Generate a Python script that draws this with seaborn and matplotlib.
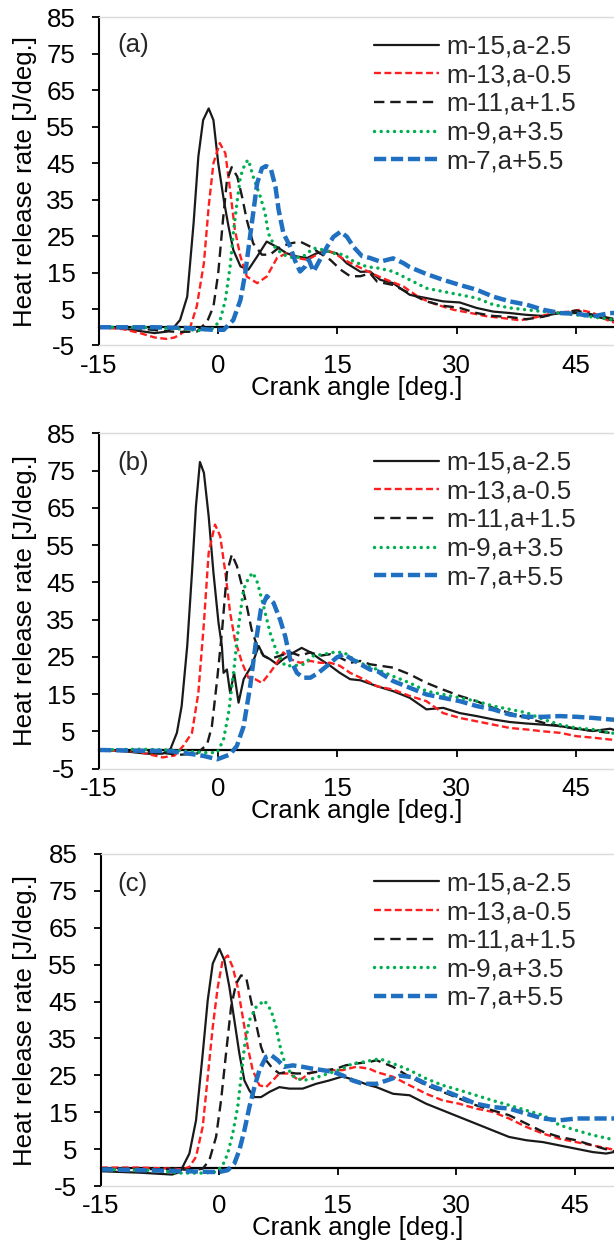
import matplotlib
matplotlib.use("Agg")
import matplotlib.pyplot as plt
import pandas as pd
import seaborn as sns

# ---------------- data ----------------
labels = ["m-15,a-2.5", "m-13,a-0.5", "m-11,a+1.5", "m-9,a+3.5", "m-7,a+5.5"]
panel_tags = ["(a)", "(b)", "(c)"]
x_ticks = [-15, 0, 15, 30, 45]
y_ticks = [-5, 5, 15, 25, 35, 45, 55, 65, 75, 85]

# panel (a)
a_m15_x = [-15,-12,-10,-8,-6.5,-5.5,-4.8,-3.9,-3.1,-2.5,-1.9,-1.2,-0.6,0.0,0.7,1.3,1.9,2.8,3.8,4.9,6.1,7.4,8.6,9.9,11.2,12.4,13.7,14.9,16.2,17.9,19.1,20.4,22.0,24.1,26.2,28.3,30.4,32.5,34.6,36.7,38.8,40.9,43.0,45.1,47.2,49.3,50.5]
a_m15_y = [0,-0.3,-1.0,-1.6,-1.2,0.2,2.0,8.4,28.5,46.8,56.8,60.0,56.8,45.0,34.9,27.6,21.2,16.7,15.8,19.4,23.5,22.0,20.3,19.4,19.0,20.3,20.8,20.3,17.5,15.2,15.3,13.0,12.1,8.9,8.0,7.1,6.8,5.3,4.3,3.9,3.4,3.1,3.9,3.9,3.1,2.0,1.5]
a_m13_x = [-15,-12,-10,-8,-6.5,-5.5,-4.8,-3.5,-2.7,-1.8,-1.2,-0.6,0.2,0.9,1.5,2.1,2.8,3.6,4.9,6.1,7.4,8.6,9.9,11.2,12.4,13.7,14.9,16.2,17.9,19.9,21.2,23.3,25.4,27.5,29.6,31.8,33.8,35.9,38.0,40.1,42.2,44.3,45.5,47.2,49.3,50.5]
a_m13_y = [0,-0.5,-1.5,-2.8,-3.2,-2.8,-2.0,0.2,5.7,17.6,33.1,45.0,50.5,47.7,37.6,26.7,19.4,13.9,12.1,13.9,19.0,20.3,19.0,18.5,19.9,21.2,19.9,18.1,16.3,14.2,13.0,11.2,8.0,6.2,4.8,3.9,3.0,2.5,1.9,2.8,3.9,4.3,4.8,3.9,1.6,1.0]
a_m11_x = [-15,-10,-7,-5,-3.5,-2.7,-1.4,-0.6,0.0,0.6,1.1,1.7,2.4,3.0,3.6,4.4,5.5,6.5,7.8,9.1,10.3,11.6,12.8,14.1,15.4,16.6,17.9,19.1,20.0,22.0,24.1,26.2,28.3,30.4,32.5,34.6,36.7,38.8,40.9,43.0,45.1,47.2,49.3,50.5]
a_m11_y = [0,-0.3,-1.0,-1.3,-1.2,-1.2,1.5,5.7,14.8,29.4,40.3,43.9,41.3,35.8,29.4,23.0,19.9,19.9,22.1,23.0,23.5,22.1,20.3,18.5,15.8,14.0,14.0,14.8,12.5,11.6,9.3,7.1,5.9,5.3,3.9,3.1,2.8,2.2,2.9,4.0,4.6,3.4,2.5,2.0]
a_m9_x = [-15,-10,-6,-4,-2.3,-0.6,0.25,0.9,1.5,1.9,2.35,2.8,3.4,3.8,4.4,5.3,5.9,6.3,7.2,8.2,9.5,10.7,12.0,13.3,14.5,15.8,17.0,18.7,20.2,22.0,24.1,26.2,28.3,30.4,32.5,34.6,36.7,38.8,40.9,43.0,45.1,47.2,49.3,50.5]
a_m9_y = [0,0,-0.3,-0.6,-0.9,-0.3,2.0,7.5,16.7,25.8,34.0,41.3,45.0,45.9,41.3,35.8,31.3,25.8,21.7,19.9,19.0,19.4,21.7,21.2,20.3,19.9,18.1,16.6,16.2,15.3,13.0,10.7,9.8,8.9,8.0,6.2,5.3,4.8,4.3,3.9,3.4,2.8,2.2,2.0]
a_m7_x = [-15,-8,-4,-2,-0.6,0.7,1.9,2.8,3.4,4.0,4.4,4.9,5.5,6.0,6.6,7.2,7.6,8.2,9.05,9.7,10.3,10.95,11.4,12.0,12.8,13.7,14.5,15.4,16.2,17.0,18.1,19.1,20.4,22.0,23.3,24.1,26.2,28.3,30.4,32.5,34.6,36.7,38.8,40.9,43.0,45.1,47.2,49.3,50.5]
a_m7_y = [0,0,-0.2,-0.5,-0.7,-0.7,2.0,7.5,14.8,24.8,31.3,39.5,43.6,44.2,43.6,38.6,32.2,25.8,22.1,18.1,15.3,16.7,18.5,15.3,18.5,22.1,24.8,26.2,24.8,22.1,19.5,19.0,18.0,18.9,17.6,16.5,14.6,13.0,11.6,10.3,8.4,7.1,6.2,4.8,3.9,3.7,3.0,3.9,3.9]

# panel (b)
b_m15_x = [-15,-12,-9,-7,-6,-5.2,-4.6,-3.9,-3.3,-2.8,-2.3,-1.8,-1.2,-0.6,0.04,0.46,0.67,1.09,1.5,2.0,2.56,3.2,4.2,5.1,5.7,6.5,7.4,8.2,9.5,10.5,11.6,12.8,14.1,15.3,16.6,17.9,20.0,22.0,24.1,26.2,28.3,30.4,32.5,34.6,36.7,38.8,40.9,43.0,45.1,47.2,49.3,50.5]
b_m15_y = [0,-0.3,-1.0,-1.0,0.3,4.6,11.8,27.9,47.6,65.5,77.3,74.4,62.7,47.6,34.1,27.9,20.7,21.6,15.3,20.7,12.7,19.0,22.6,27.9,25.3,24.4,23.0,24.4,26.2,27.4,26.2,24.4,22.6,20.7,19.0,18.7,17.1,15.8,14.0,10.9,11.3,9.9,9.1,8.2,7.5,7.1,6.8,6.4,5.7,5.1,5.7,5.0]
b_m13_x = [-15,-10,-8,-7,-5.5,-4.4,-3.3,-2.5,-1.8,-1.2,-0.4,0.25,0.9,1.5,2.1,3.0,3.8,4.65,5.5,6.5,7.4,8.2,9.05,10.3,11.6,12.8,14.1,15.3,16.6,17.9,20.0,22.0,24.1,26.2,28.3,30.4,32.5,34.6,36.7,38.8,40.9,43.0,45.1,47.2,49.3,50.5]
b_m13_y = [0,-0.5,-1.5,-2.0,-1.5,1.1,4.6,15.3,34.1,53.0,60.5,57.4,47.6,36.8,29.6,23.4,19.4,19.0,18.0,20.7,23.4,26.2,24.4,23.4,23.9,23.4,23.4,22.6,20.7,19.4,17.1,16.2,14.5,13.1,9.9,8.6,7.7,6.8,5.9,5.5,5.0,4.6,3.7,3.3,2.8,2.6]
b_m11_x = [-15,-8,-5,-2.7,-1.4,-0.8,-0.13,0.46,1.09,1.72,2.35,3.0,3.6,4.2,4.9,5.7,6.5,7.8,9.05,10.3,11.6,12.8,14.1,15.3,16.6,17.9,19.1,22.0,24.1,26.2,28.3,30.4,32.5,34.6,36.7,38.8,40.9,43.0,45.1,47.2,49.3,50.5]
b_m11_y = [0,-0.5,-1.3,-1.0,1.5,6.3,19.0,31.4,47.6,52.5,49.4,44.0,38.6,32.3,27.9,25.3,24.4,25.3,26.2,25.3,26.2,25.3,25.7,24.8,23.4,23.9,23.0,22.1,20.3,18.0,16.2,14.5,13.1,11.3,9.9,8.6,7.3,6.4,5.7,5.1,4.6,4.4]
b_m9_x = [-15,-10,-6,-3,-1.8,-0.13,0.67,1.3,1.93,2.56,3.19,3.82,4.36,4.94,5.7,6.54,7.38,8.4,9.47,10.7,12.0,13.3,14.5,15.8,17.0,18.3,20.0,22.0,24.1,26.2,28.3,30.4,32.5,34.6,36.7,38.8,40.9,43.0,45.1,47.2,49.3,50.5]
b_m9_y = [0,0.2,0,-0.5,-0.7,-0.7,2.8,9.9,20.7,33.2,43.1,46.2,47.6,44.9,38.6,31.4,26.2,22.6,22.6,23.0,25.3,25.7,26.2,26.2,24.4,23.0,21.6,19.8,18.0,15.8,14.9,14.0,13.1,11.8,10.9,10.0,8.2,6.8,5.9,5.5,4.6,4.3]
b_m7_x = [-15,-10,-6,-3,-1.84,-0.13,1.5,2.35,3.19,4.02,4.78,5.37,6.12,6.96,7.8,8.43,9.05,9.9,10.7,11.6,12.6,13.7,14.9,15.8,16.8,17.9,19.1,20.0,22.0,24.1,26.2,28.3,30.4,32.5,34.6,36.7,38.8,40.9,43.0,45.1,47.2,49.3,50.5]
b_m7_y = [0,-0.2,-0.3,-1.2,-1.6,-2.5,-1.2,1.1,6.3,17.1,29.6,37.7,41.3,39.5,34.9,30.5,24.4,20.7,19.4,19.4,20.7,22.6,24.8,25.7,24.4,23.0,21.6,21.2,18.5,16.7,14.9,14.0,13.1,11.8,10.9,9.5,8.9,8.9,9.1,8.9,8.6,8.2,8.0]

# panel (c)
c_m15_x = [-15,-10,-6,-5,-4.65,-3.8,-2.96,-2.11,-1.48,-0.84,0.0,0.63,1.27,1.9,2.53,3.17,3.8,4.44,5.28,6.34,7.6,8.87,10.56,12.25,13.9,15.6,17.3,19.0,19.9,22.0,24.1,26.2,28.3,30.4,32.5,34.6,36.7,38.9,41.0,43.1,45.2,47.3,49.0,50.5]
c_m15_y = [-1.0,-1.4,-1.9,-1.2,0.2,3.8,12.8,30.9,45.3,55.3,59.3,56.2,48.9,39.9,30.9,23.6,20.9,19.1,19.1,20.5,21.8,21.4,21.4,22.7,23.6,24.7,23.6,22.3,21.8,20.0,19.6,17.3,15.5,13.7,11.9,10.1,8.3,7.4,6.9,6.0,5.1,4.2,3.8,4.4]
c_m13_x = [-15,-10,-6,-4.6,-3.8,-2.96,-2.11,-1.48,-0.84,-0.21,0.42,1.06,1.69,2.32,2.96,3.59,4.22,5.07,5.91,6.76,7.6,8.87,10.1,11.4,12.7,13.9,15.6,17.3,19.0,19.9,22.0,24.1,26.2,28.3,30.4,32.5,34.6,36.7,38.9,41.0,43.1,45.2,47.3,49.4,50.5]
c_m13_y = [0,0,-0.3,-0.5,0.2,2.9,11.1,24.5,38.1,48.9,56.2,57.5,54.3,48.9,40.8,32.7,26.4,22.3,21.8,23.6,25.5,25.5,23.6,25.5,26.4,26.4,26.4,27.3,26.8,25.9,24.6,22.3,20.0,18.2,17.3,16.0,15.1,13.3,11.0,9.2,7.8,6.9,6.0,5.1,4.6]
c_m11_x = [-15,-6,-3,-2.11,-1.27,-0.42,0.21,0.84,1.48,2.11,2.75,3.38,4.0,4.65,5.28,5.91,6.76,7.6,8.45,9.7,11.0,12.25,13.5,14.8,16.0,17.3,19.0,19.9,22.0,24.1,26.2,28.3,30.4,32.5,34.6,36.7,38.9,41.0,43.1,45.2,47.3,49.4,50.5]
c_m11_y = [-0.2,-0.5,-0.6,-0.3,2.0,8.3,18.2,30.9,43.5,49.8,52.1,51.6,45.3,39.0,32.7,29.1,26.8,25.5,25.9,25.5,25.5,25.9,26.4,26.8,27.7,28.2,28.6,29.1,27.3,24.6,22.3,20.5,18.7,16.9,15.5,14.2,11.9,9.7,8.3,7.4,6.0,4.7,4.2]
c_m9_x = [-15,-8,-5,-2,-0.42,0.42,1.06,1.69,2.32,2.75,3.17,3.8,4.65,5.7,6.55,7.18,7.8,8.45,9.5,10.56,11.8,13.1,14.4,15.6,16.9,18.2,20.3,22.0,24.1,26.2,28.3,30.4,32.5,34.6,36.7,38.9,41.0,43.1,45.2,47.3,49.4,50.5]
c_m9_y = [-0.5,-0.8,-1.5,-1.5,-1.2,0.6,3.8,9.2,16.4,24.5,32.7,39.9,43.5,45.3,42.6,38.1,31.8,27.3,24.5,23.6,24.1,25.0,25.9,26.8,28.2,28.6,29.5,28.2,26.4,24.1,22.3,21.0,19.6,18.2,16.9,15.5,14.2,11.5,10.1,8.8,7.8,7.3]
c_m7_x = [-15,-8,-4,-1,0.0,1.06,1.9,2.53,3.17,3.8,4.44,5.07,5.91,6.55,7.39,8.24,9.3,10.56,11.8,13.1,14.4,15.6,16.9,18.2,19.9,21.2,22.9,24.5,26.2,28.3,30.4,32.5,34.6,36.7,38.9,41.0,43.1,45.2,47.3,49.4,50.5]
c_m7_y = [-0.5,-0.8,-1.0,-1.2,-1.2,-0.7,1.1,4.7,10.1,16.4,21.8,26.4,30.0,30.5,29.1,27.3,27.7,27.3,26.8,26.4,25.9,25.0,23.6,22.7,22.7,23.6,24.9,24.5,22.7,21.0,19.2,17.3,16.4,16.0,14.6,13.3,12.8,13.3,13.3,13.3,13.3]

panels = [
    [(a_m15_x, a_m15_y), (a_m13_x, a_m13_y), (a_m11_x, a_m11_y), (a_m9_x, a_m9_y), (a_m7_x, a_m7_y)],
    [(b_m15_x, b_m15_y), (b_m13_x, b_m13_y), (b_m11_x, b_m11_y), (b_m9_x, b_m9_y), (b_m7_x, b_m7_y)],
    [(c_m15_x, c_m15_y), (c_m13_x, c_m13_y), (c_m11_x, c_m11_y), (c_m9_x, c_m9_y), (c_m7_x, c_m7_y)],
]

# ---------------- style ----------------
sns.set_theme(style="white")
plt.rcParams["font.family"] = ["Liberation Sans", "DejaVu Sans"]
plt.rcParams["lines.scale_dashes"] = False
plt.rcParams["axes.unicode_minus"] = False

colors = ["#1a1a1a", "#ff1f1f", "#1a1a1a", "#00b050", "#1f70c1"]
widths = [1.6, 1.7, 1.7, 2.5, 3.2]
styles = ["-", (0, (5.0, 2.5)), (0, (7.5, 4.2)), (0, (0.01, 4.8)), (0, (8.8, 3.4))]

FS = 18.6
W, H = 614, 1240
fig = plt.figure(figsize=(W / 100, H / 100), dpi=100)

# pixel geometry of each panel: (left, top, bottom, xmax)
geo = [(99, 17.3, 345.5, 49.8), (99, 433.3, 768.6, 49.8), (101, 854.0, 1186.0, 50.0)]
tag_y = [45, 463, 884]

for p, series in enumerate(panels):
    left, top, bottom, xmax = geo[p]
    ax = fig.add_axes([left / W, 1 - bottom / H, (W - left) / W, (bottom - top) / H])
    handles = []
    for i, (xs, ys) in enumerate(series):
        df = pd.DataFrame({"ca": xs, "hrr": ys})
        sns.lineplot(data=df, x="ca", y="hrr", ax=ax, color=colors[i], lw=widths[i],
                     estimator=None, sort=False, legend=False)
        ln = ax.lines[-1]
        ln.set_linestyle(styles[i])
        if i == 3:
            ln.set_dash_capstyle("round")
        handles.append(ln)

    ax.set_xlim(-15, xmax)
    ax.set_ylim(-5, 85)
    ax.set_xticks(x_ticks)
    ax.set_yticks(y_ticks)
    ax.tick_params(axis="y", direction="out", length=5, width=1.3, pad=12,
                   labelsize=FS, color="black", labelcolor="black", left=True)
    ax.tick_params(axis="x", length=0, pad=6, labelsize=FS, labelcolor="black", bottom=True)
    ax.spines["left"].set_color("black")
    ax.spines["left"].set_linewidth(1.5)
    for s in ["top", "bottom"]:
        ax.spines[s].set_color("#d9d9d9")
        ax.spines[s].set_linewidth(1.0)
    ax.spines["right"].set_visible(False)

    sec = ax.secondary_xaxis(5 / 90)
    sec.set_xticks(x_ticks)
    sec.set_xticklabels([])
    sec.tick_params(axis="x", direction="out", length=5, width=1.3, color="black", bottom=True)
    sec.spines["bottom"].set_color("black")
    sec.spines["bottom"].set_linewidth(1.6)

    ax.set_xlabel("Crank angle [deg.]", fontsize=FS, color="black")
    ax.set_ylabel("Heat release rate [J/deg.]", fontsize=FS, color="black")
    hpx = bottom - top
    ax.xaxis.set_label_coords(0.5, -30.5 / hpx)
    ax.yaxis.set_label_coords((37 - left) / (W - left), 0.5)

    ax.legend(handles, labels, loc="upper left",
              bbox_to_anchor=(374 / W, 1 - (top + 17.4) / H), bbox_transform=fig.transFigure,
              frameon=False, fontsize=FS, handlelength=2.5, handletextpad=0.3,
              labelspacing=0.18, borderpad=0, borderaxespad=0)
    fig.text(117 / W, 1 - tag_y[p] / H, panel_tags[p], fontsize=FS, va="center", ha="left")

fig.savefig("out.png", dpi=100)
